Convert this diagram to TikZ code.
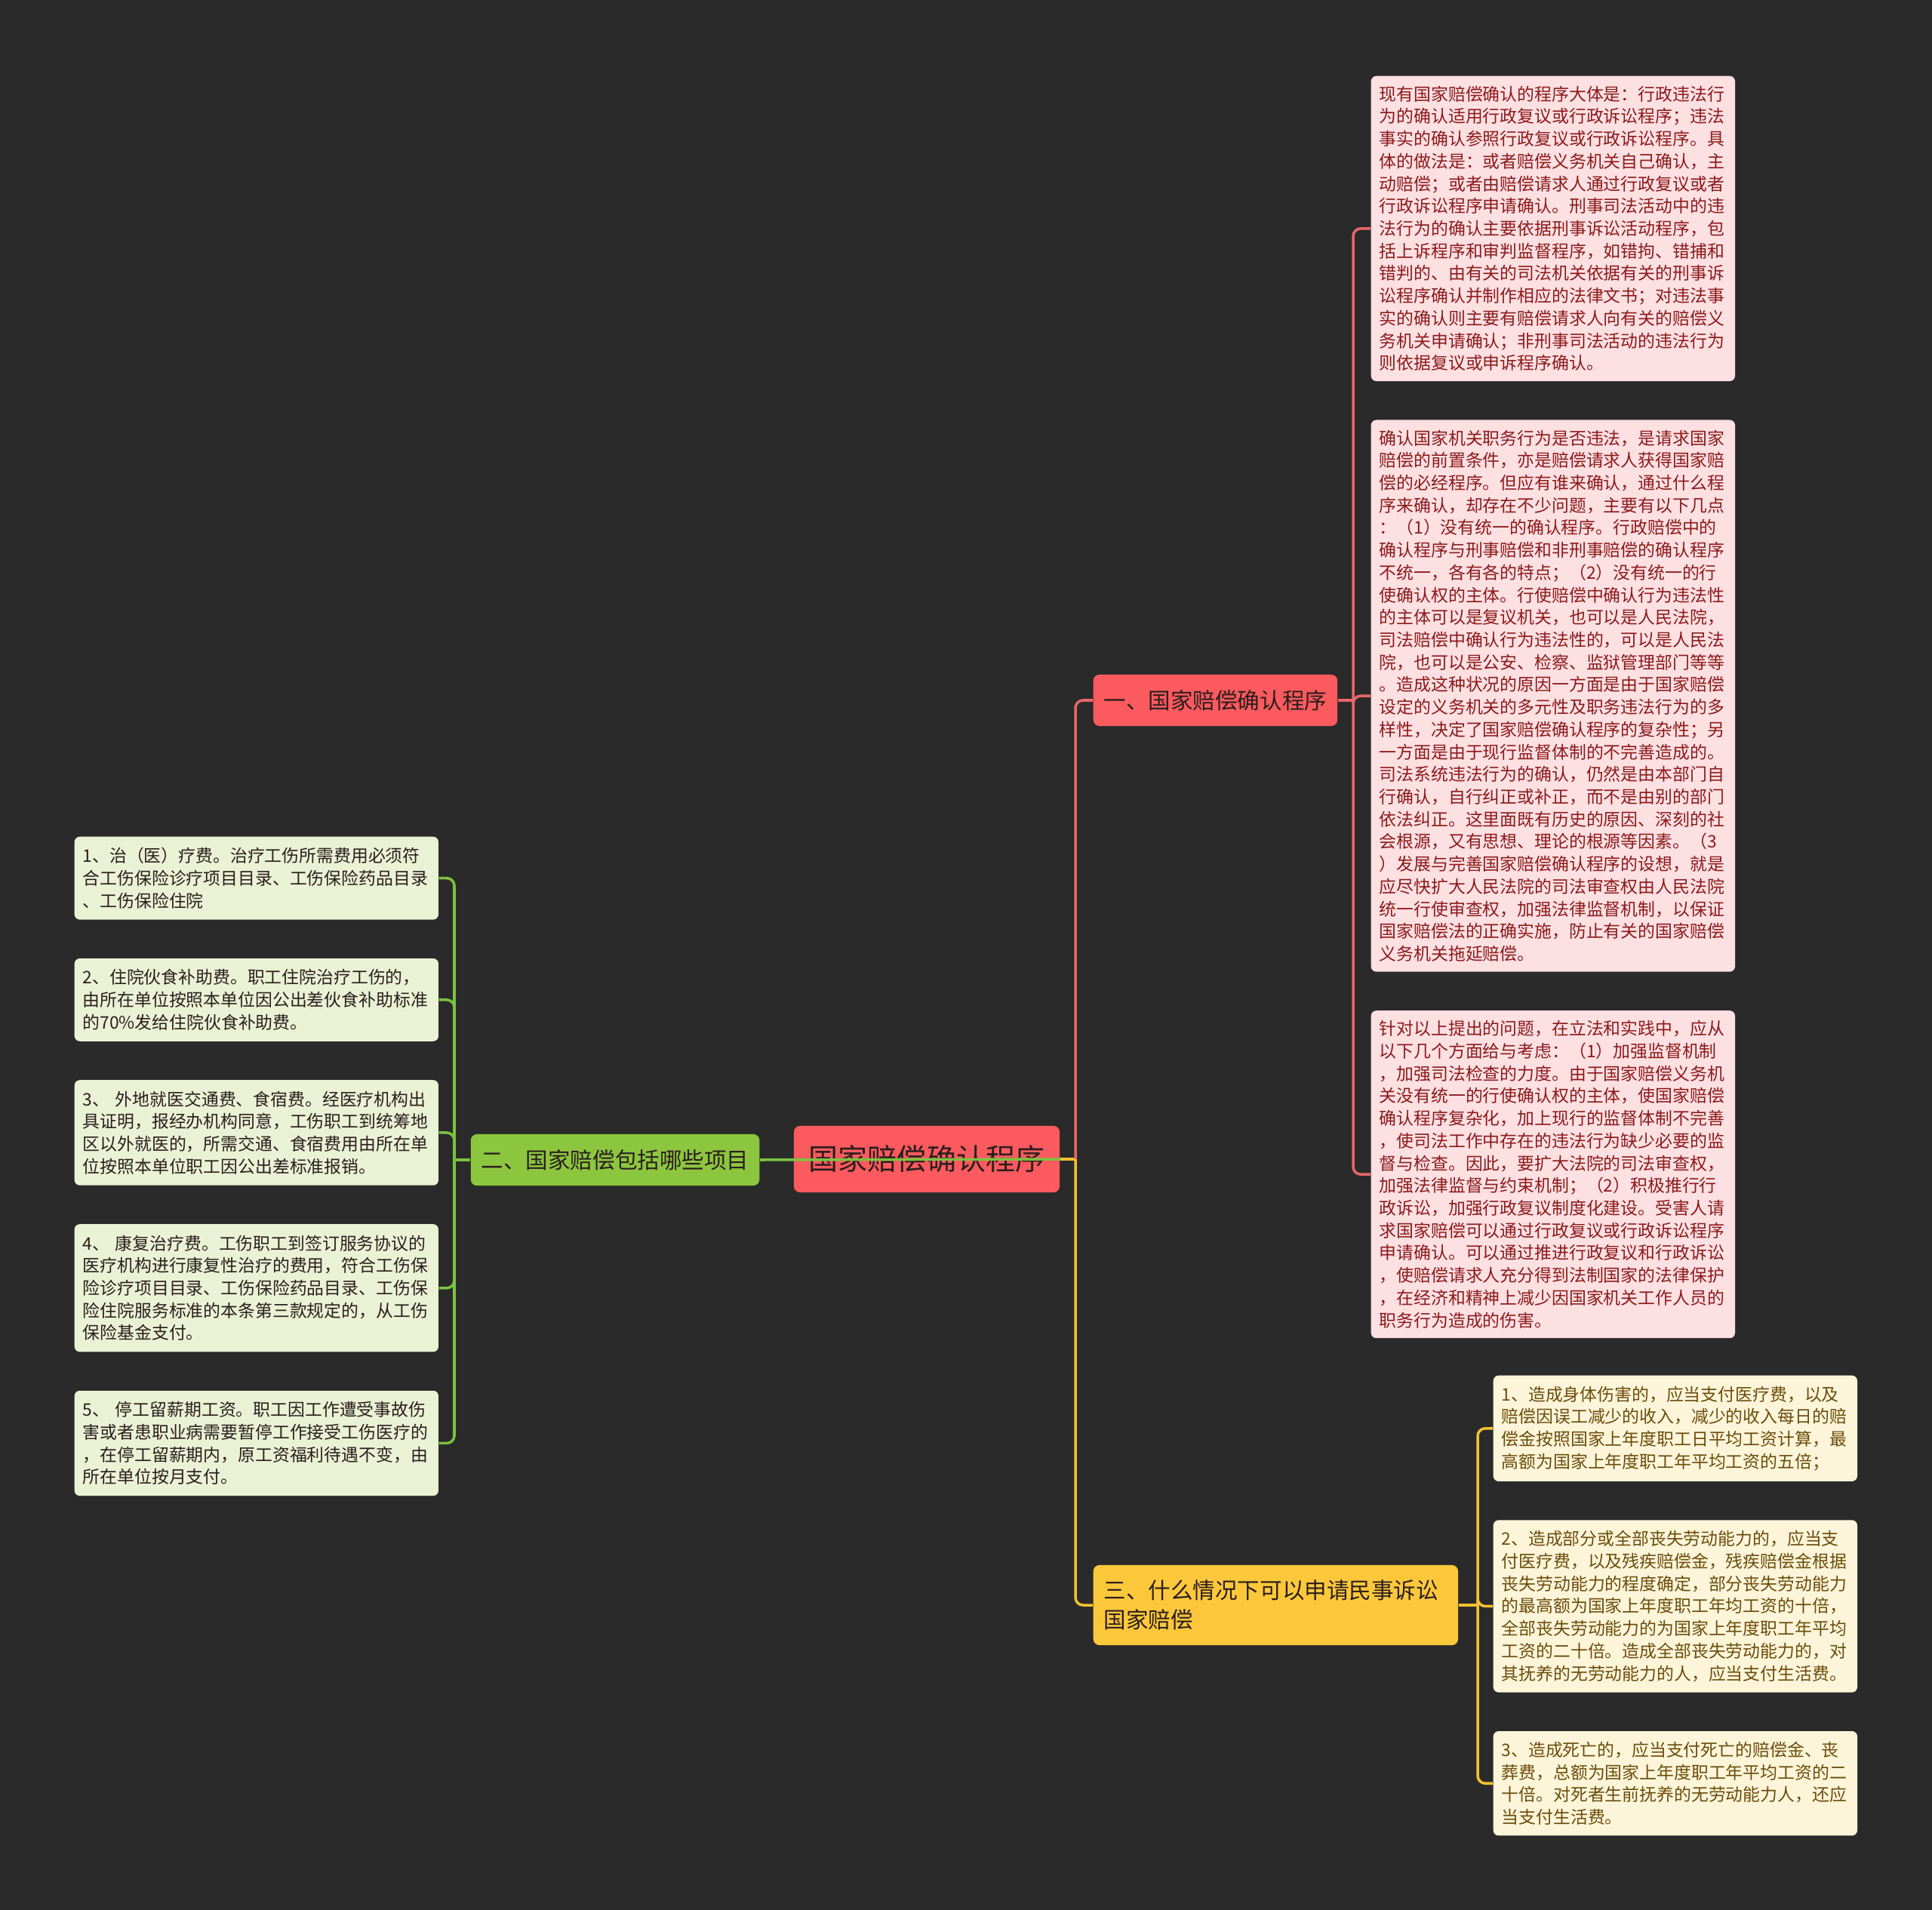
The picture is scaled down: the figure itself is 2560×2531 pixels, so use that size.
\documentclass[tikz,border=0pt]{standalone}
\usepackage{fontspec}
\usetikzlibrary{positioning}
\newfontfamily\cjk{Noto Sans CJK SC}
\definecolor{bgdark}{HTML}{2A2A2A}
\definecolor{rootred}{HTML}{FB5A5E}
\definecolor{pinkfill}{HTML}{FDE0E1}
\definecolor{redwire}{HTML}{E8676A}
\definecolor{maroon}{HTML}{8B1A1D}
\definecolor{leafgreen}{HTML}{8CC63E}
\definecolor{palegreen}{HTML}{EAF2D5}
\definecolor{greenwire}{HTML}{7CC242}
\definecolor{gold}{HTML}{FCC83B}
\definecolor{cream}{HTML}{FDF5DA}
\definecolor{goldwire}{HTML}{F2C12E}
\definecolor{olive}{HTML}{6B4D0B}
\definecolor{ink}{HTML}{2B1E1E}

\begin{document}
\begin{tikzpicture}[
    x=0.01cm, y=-0.01cm,
    node distance=0.5cm,
    rootbox/.style={fill=rootred, rounded corners=0.08cm, text=ink, minimum width=3.52cm, minimum height=0.88cm, inner sep=0pt, font=\cjk\fontsize{11.1pt}{13pt}\selectfont},
    topic/.style={rounded corners=0.08cm, inner xsep=0.14cm, inner ysep=0pt, minimum height=0.68cm, text=ink, font=\cjk\fontsize{8.4pt}{11.1pt}\selectfont},
    leaf/.style={rounded corners=0.07cm, text width=4.6cm, align=left, inner xsep=0.11cm, inner ysep=0.14cm, font=\cjk\fontsize{6.5pt}{8.45pt}\selectfont},
    pinkleaf/.style={leaf, fill=pinkfill, text=maroon, inner ysep=0.132cm},
    greenleaf/.style={leaf, fill=palegreen, text=ink, inner ysep=0.145cm},
    creamleaf/.style={leaf, fill=cream, text=olive},
    link/.style={line width=1pt, rounded corners=0.1cm}
  ]
    \fill[bgdark] (0,0) rectangle (2560,2531);
    \useasboundingbox (0,0) rectangle (2560,2531);

    \node[rootbox] (root) at (1228,1536) {国家赔偿确认程序};
    \node[topic, fill=rootred, anchor=west] (law) at (1448,928) {一、国家赔偿确认程序};
    \node[topic, fill=leafgreen, anchor=east] (items) at (1007,1537) {二、国家赔偿包括哪些项目};
    \node[topic, fill=gold, anchor=west, text width=4.55cm, align=left, minimum height=1.06cm] (civil) at (1448,2127) {三、什么情况下可以申请民事诉讼\\国家赔偿};

    \node[pinkleaf, anchor=north west] (why) at (1816,100) {现有国家赔偿确认的程序大体是：行政违法行\\为的确认适用行政复议或行政诉讼程序；违法\\事实的确认参照行政复议或行政诉讼程序。具\\体的做法是：或者赔偿义务机关自己确认，主\\动赔偿；或者由赔偿请求人通过行政复议或者\\行政诉讼程序申请确认。刑事司法活动中的违\\法行为的确认主要依据刑事诉讼活动程序，包\\括上诉程序和审判监督程序，如错拘、错捕和\\错判的、由有关的司法机关依据有关的刑事诉\\讼程序确认并制作相应的法律文书；对违法事\\实的确认则主要有赔偿请求人向有关的赔偿义\\务机关申请确认；非刑事司法活动的违法行为\\则依据复议或申诉程序确认。};
    \node[pinkleaf, below=of why] (issue) {确认国家机关职务行为是否违法，是请求国家\\赔偿的前置条件，亦是赔偿请求人获得国家赔\\偿的必经程序。但应有谁来确认，通过什么程\\序来确认，却存在不少问题，主要有以下几点\\：（1）没有统一的确认程序。行政赔偿中的\\确认程序与刑事赔偿和非刑事赔偿的确认程序\\不统一，各有各的特点；（2）没有统一的行\\使确认权的主体。行使赔偿中确认行为违法性\\的主体可以是复议机关，也可以是人民法院，\\司法赔偿中确认行为违法性的，可以是人民法\\院，也可以是公安、检察、监狱管理部门等等\\。造成这种状况的原因一方面是由于国家赔偿\\设定的义务机关的多元性及职务违法行为的多\\样性，决定了国家赔偿确认程序的复杂性；另\\一方面是由于现行监督体制的不完善造成的。\\司法系统违法行为的确认，仍然是由本部门自\\行确认，自行纠正或补正，而不是由别的部门\\依法纠正。这里面既有历史的原因、深刻的社\\会根源，又有思想、理论的根源等因素。（3\\）发展与完善国家赔偿确认程序的设想，就是\\应尽快扩大人民法院的司法审查权由人民法院\\统一行使审查权，加强法律监督机制，以保证\\国家赔偿法的正确实施，防止有关的国家赔偿\\义务机关拖延赔偿。};
    \node[pinkleaf, below=of issue] (advice) {针对以上提出的问题，在立法和实践中，应从\\以下几个方面给与考虑：（1）加强监督机制\\，加强司法检查的力度。由于国家赔偿义务机\\关没有统一的行使确认权的主体，使国家赔偿\\确认程序复杂化，加上现行的监督体制不完善\\，使司法工作中存在的违法行为缺少必要的监\\督与检查。因此，要扩大法院的司法审查权，\\加强法律监督与约束机制；（2）积极推行行\\政诉讼，加强行政复议制度化建设。受害人请\\求国家赔偿可以通过行政复议或行政诉讼程序\\申请确认。可以通过推进行政复议和行政诉讼\\，使赔偿请求人充分得到法制国家的法律保护\\，在经济和精神上减少因国家机关工作人员的\\职务行为造成的伤害。};

    \node[greenleaf, anchor=north west] (cost1) at (98,1108) {1、治（医）疗费。治疗工伤所需费用必须符\\合工伤保险诊疗项目目录、工伤保险药品目录\\、工伤保险住院};
    \node[greenleaf, below=of cost1] (cost2) {2、住院伙食补助费。职工住院治疗工伤的，\\由所在单位按照本单位因公出差伙食补助标准\\的70\%发给住院伙食补助费。};
    \node[greenleaf, below=of cost2] (cost3) {3、 外地就医交通费、食宿费。经医疗机构出\\具证明，报经办机构同意，工伤职工到统筹地\\区以外就医的，所需交通、食宿费用由所在单\\位按照本单位职工因公出差标准报销。};
    \node[greenleaf, below=of cost3] (cost4) {4、 康复治疗费。工伤职工到签订服务协议的\\医疗机构进行康复性治疗的费用，符合工伤保\\险诊疗项目目录、工伤保险药品目录、工伤保\\险住院服务标准的本条第三款规定的，从工伤\\保险基金支付。};
    \node[greenleaf, below=of cost4] (cost5) {5、 停工留薪期工资。职工因工作遭受事故伤\\害或者患职业病需要暂停工作接受工伤医疗的\\，在停工留薪期内，原工资福利待遇不变，由\\所在单位按月支付。};

    \node[creamleaf, anchor=north west] (case1) at (1978,1822) {1、造成身体伤害的，应当支付医疗费，以及\\赔偿因误工减少的收入，减少的收入每日的赔\\偿金按照国家上年度职工日平均工资计算，最\\高额为国家上年度职工年平均工资的五倍；};
    \node[creamleaf, below=of case1] (case2) {2、造成部分或全部丧失劳动能力的，应当支\\付医疗费，以及残疾赔偿金，残疾赔偿金根据\\丧失劳动能力的程度确定，部分丧失劳动能力\\的最高额为国家上年度职工年均工资的十倍，\\全部丧失劳动能力的为国家上年度职工年平均\\工资的二十倍。造成全部丧失劳动能力的，对\\其抚养的无劳动能力的人，应当支付生活费。};
    \node[creamleaf, below=of case2] (case3) {3、造成死亡的，应当支付死亡的赔偿金、丧\\葬费，总额为国家上年度职工年平均工资的二\\十倍。对死者生前抚养的无劳动能力人，还应\\当支付生活费。};

    \coordinate (hub) at (1425,1536);
    \coordinate (lawhub) at (1793,928);
    \coordinate (itemhub) at (602,1537);
    \coordinate (civilhub) at (1958,2127);

    \draw[link, goldwire] (root.east) -- (hub);
    \draw[link, redwire] (hub) |- (law.west);
    \draw[link, goldwire] (hub) |- (civil.west);
    \draw[link, greenwire] (items.east) -- (root.east);

    \draw[link, redwire] (law.east) -- (lawhub);
    \foreach \n in {why, issue, advice}
      \draw[link, redwire] (lawhub) |- (\n.west);
    \draw[link, greenwire] (items.west) -- (itemhub);
    \foreach \n in {cost1, cost2, cost3, cost4, cost5}
      \draw[link, greenwire] (itemhub) |- (\n.east);
    \draw[link, goldwire] (civil.east) -- (civilhub);
    \foreach \n in {case1, case2, case3}
      \draw[link, goldwire] (civilhub) |- (\n.west);
  \end{tikzpicture}
\end{document}
